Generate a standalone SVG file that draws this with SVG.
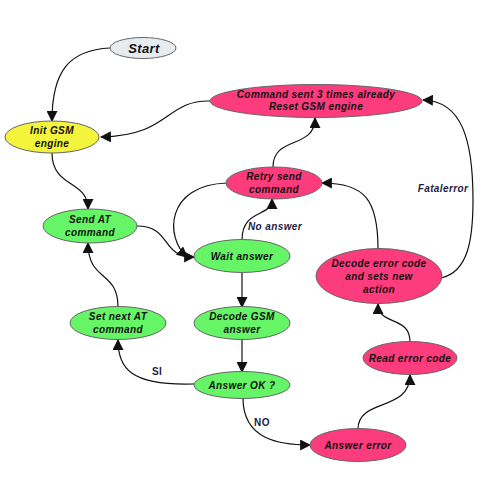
<svg xmlns="http://www.w3.org/2000/svg" width="500" height="493" viewBox="0 0 500 493">
<style>
.n{stroke:#666;stroke-width:1}
.g{fill:#66f566}
.p{fill:#fc3c7c}
.y{fill:#f4f43c}
.s{fill:#e6ecf0}
text{font-family:"Liberation Sans",Arial,sans-serif;font-weight:bold;font-style:italic;font-size:10px;text-anchor:middle;fill:#111;letter-spacing:0.4px}
.lb{fill:#1c1c48}
.up{font-style:normal}
.e{fill:none;stroke:#111;stroke-width:1.2}
</style>
<defs>
<marker id="a" viewBox="0 0 10 10" refX="9" refY="5" markerWidth="11" markerHeight="11" markerUnits="userSpaceOnUse" orient="auto">
<path d="M0,0 L10,5 L0,10 z" fill="#111"/>
</marker>
</defs>
<g id="edges">
<path class="e" marker-end="url(#a)" d="M110,48 C70,50 52,70 52,121"/>
<path class="e" marker-end="url(#a)" d="M210,101 C165,100 170,136 101,137"/>
<path class="e" marker-end="url(#a)" d="M52,153 C52,188 88,180 88,209"/>
<path class="e" marker-end="url(#a)" d="M137,226 C172,226 160,257 194,257"/>
<path class="e" marker-end="url(#a)" d="M227,183 C165,185 165,238 187,257"/>
<path class="e" marker-end="url(#a)" d="M242,240 C242,208 272,218 272,199"/>
<path class="e" marker-end="url(#a)" d="M273,167 C273,135 315,150 315,118"/>
<path class="e" marker-end="url(#a)" d="M242,273 L242,307"/>
<path class="e" marker-end="url(#a)" d="M242,340 L242,372"/>
<path class="e" marker-end="url(#a)" d="M194,384 C130,386 118,368 118,340"/>
<path class="e" marker-end="url(#a)" d="M118,307 C118,270 88,282 88,243"/>
<path class="e" marker-end="url(#a)" d="M243,398 C243,440 280,445 310,445"/>
<path class="e" marker-end="url(#a)" d="M358,429 C358,398 410,412 410,375"/>
<path class="e" marker-end="url(#a)" d="M410,342 C410,315 378,326 378,304"/>
<path class="e" marker-end="url(#a)" d="M378,249 C378,200 365,183 322,183"/>
<path class="e" marker-end="url(#a)" d="M441,278 C468,272 473,240 473,200 C473,140 462,101 423,100"/>
<text class="lb" x="275" y="230">No answer</text>
<text class="lb up" x="157" y="375">SI</text>
<text class="lb up" x="262" y="426">NO</text>
<text class="lb" x="443" y="192">Fatalerror</text>
</g>
<g id="start"><ellipse class="n s" cx="143" cy="48" rx="33" ry="10.5"/><text x="144" y="53" style="font-size:13px">Start</text></g>
<g id="init"><ellipse class="n y" cx="52" cy="137" rx="47" ry="16"/><text x="52" y="134">Init GSM</text><text x="52" y="147">engine</text></g>
<g id="reset"><ellipse class="n p" cx="316" cy="101" rx="106" ry="16.5"/><text x="316" y="98">Command sent 3 times already</text><text x="316" y="110">Reset GSM engine</text></g>
<g id="retry"><ellipse class="n p" cx="274" cy="183" rx="48" ry="16"/><text x="274" y="180">Retry send</text><text x="274" y="193">command</text></g>
<g id="send"><ellipse class="n g" cx="90" cy="226" rx="47" ry="17"/><text x="90" y="223">Send AT</text><text x="90" y="236">command</text></g>
<g id="wait"><ellipse class="n g" cx="242" cy="256" rx="48" ry="16.5"/><text x="242" y="260">Wait answer</text></g>
<g id="setnext"><ellipse class="n g" cx="118" cy="323" rx="48" ry="16.5"/><text x="118" y="320">Set next AT</text><text x="118" y="333">command</text></g>
<g id="decodegsm"><ellipse class="n g" cx="242" cy="323" rx="48" ry="16.5"/><text x="242" y="320">Decode GSM</text><text x="242" y="333">answer</text></g>
<g id="answerok"><ellipse class="n g" cx="242" cy="385" rx="48" ry="13.5"/><text x="242" y="389">Answer OK ?</text></g>
<g id="answererror"><ellipse class="n p" cx="358" cy="445" rx="48" ry="16.5"/><text x="358" y="449">Answer error</text></g>
<g id="readerror"><ellipse class="n p" cx="410" cy="358" rx="47" ry="16.5"/><text x="410" y="362">Read error code</text></g>
<g id="decodeerror"><ellipse class="n p" cx="379" cy="276" rx="63" ry="27.5"/><text x="379" y="267">Decode error code</text><text x="379" y="280">and sets new</text><text x="379" y="293">action</text></g>
</svg>
